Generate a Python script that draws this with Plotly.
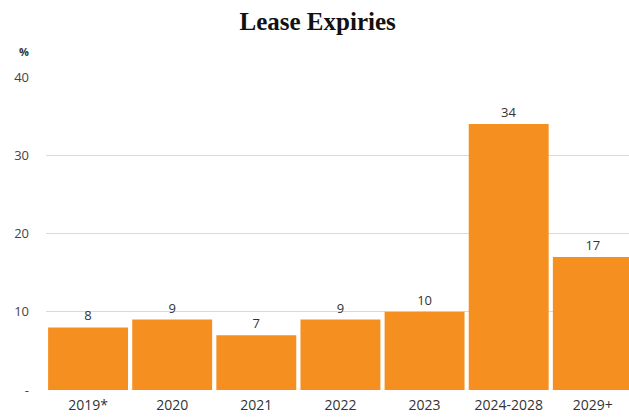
import plotly.graph_objects as go

categories = ["2019*", "2020", "2021", "2022", "2023", "2024-2028", "2029+"]
values = [8, 9, 7, 9, 10, 34, 17]
ytick_vals = [0, 10, 20, 30, 40]
ytick_text = ["-", "10", "20", "30", "40"]

W, H = 629, 418
fig = go.Figure(go.Bar(
    x=categories, y=values,
    marker=dict(color="#F58F20", line=dict(width=0)),
    text=[str(v) for v in values], textposition="outside",
    textfont=dict(family="Open Sans", size=13, color="#333333"),
    cliponaxis=False,
))
fig.update_layout(
    width=W, height=H,
    margin=dict(l=46, r=0, t=77, b=28),
    paper_bgcolor="white", plot_bgcolor="white",
    bargap=0.05,
    showlegend=False,
    title=dict(text="<b>Lease Expiries</b>", x=0.505, xanchor="center", y=1 - 21 / H, yanchor="middle",
               font=dict(family="Liberation Serif", size=25, color="#111111")),
    font=dict(family="Open Sans", size=12, color="#333333"),
)
fig.update_xaxes(range=[-0.5, 6.43], showgrid=False, showline=False, zeroline=False,
                 ticks="", tickfont=dict(size=14, color="#333333"), ticklabelstandoff=5)
fig.update_yaxes(range=[0, 40], tickvals=ytick_vals, ticktext=ytick_text,
                 showgrid=True, gridcolor="#D9D9D9", gridwidth=1, zeroline=False, showline=False,
                 tickfont=dict(size=13, color="#444444"), ticklabelstandoff=16)
fig.add_annotation(text="<b>%</b>", xref="paper", yref="paper", x=-22 / 583, y=1 + 25 / 313,
                   xanchor="center", yanchor="middle", showarrow=False,
                   font=dict(family="Open Sans", size=11, color="#333333"))
fig.write_html("out.html")
